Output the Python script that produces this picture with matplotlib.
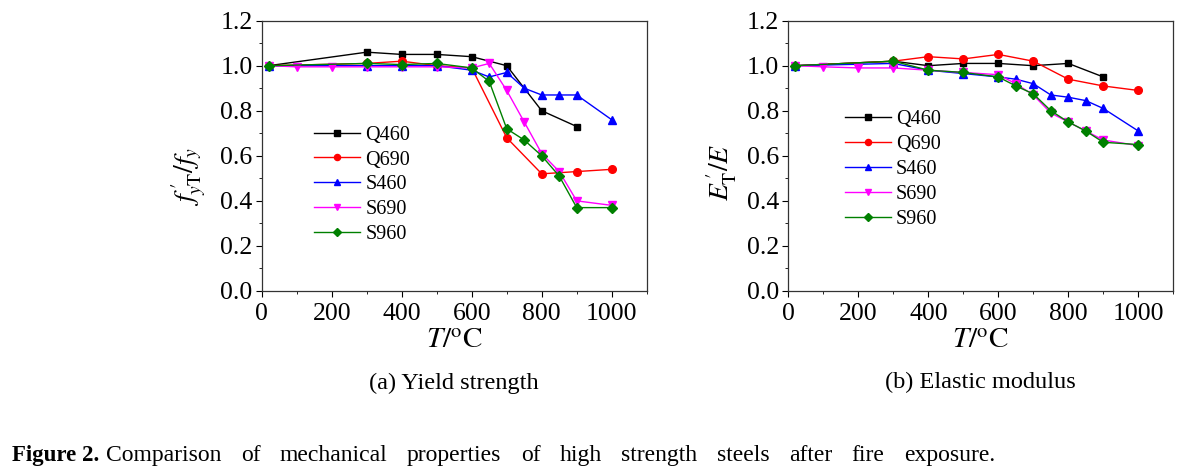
import numpy as np
import matplotlib
matplotlib.use('Agg')
import matplotlib.pyplot as plt
from matplotlib.ticker import MultipleLocator

plt.rcParams['font.family'] = ['Liberation Serif', 'DejaVu Serif']
plt.rcParams['mathtext.fontset'] = 'stix'

# --- data ---
series_names = ['Q460', 'Q690', 'S460', 'S690', 'S960']

# (a) yield strength ratio
ys_T_q460 = [20, 300, 400, 500, 600, 700, 800, 900]
ys_q460 = [1.00, 1.06, 1.05, 1.05, 1.04, 1.00, 0.80, 0.73]
ys_T_q690 = [20, 300, 400, 500, 600, 700, 800, 900, 1000]
ys_q690 = [1.00, 1.01, 1.02, 1.00, 0.99, 0.68, 0.52, 0.53, 0.54]
ys_T_s460 = [20, 300, 400, 500, 600, 650, 700, 750, 800, 850, 900, 1000]
ys_s460 = [1.00, 1.00, 1.00, 1.00, 0.98, 0.95, 0.97, 0.90, 0.87, 0.87, 0.87, 0.76]
ys_T_s690 = [20, 100, 200, 300, 400, 500, 600, 650, 700, 750, 800, 850, 900, 1000]
ys_s690 = [1.00, 0.995, 0.995, 0.995, 0.995, 0.995, 0.99, 1.01, 0.89, 0.75, 0.61, 0.53, 0.40, 0.38]
ys_T_s960 = [20, 300, 400, 500, 600, 650, 700, 750, 800, 850, 900, 1000]
ys_s960 = [1.00, 1.01, 1.005, 1.01, 0.99, 0.93, 0.72, 0.67, 0.60, 0.51, 0.37, 0.37]

# (b) elastic modulus ratio
em_T_q460 = [20, 300, 400, 500, 600, 700, 800, 900]
em_q460 = [1.00, 1.02, 1.00, 1.01, 1.01, 1.00, 1.01, 0.95]
em_T_q690 = [20, 300, 400, 500, 600, 700, 800, 900, 1000]
em_q690 = [1.00, 1.02, 1.04, 1.03, 1.05, 1.02, 0.94, 0.91, 0.89]
em_T_s460 = [20, 300, 400, 500, 600, 650, 700, 750, 800, 850, 900, 1000]
em_s460 = [1.00, 1.01, 0.98, 0.965, 0.95, 0.94, 0.92, 0.87, 0.86, 0.845, 0.81, 0.71]
em_T_s690 = [20, 100, 200, 300, 400, 500, 600, 650, 700, 750, 800, 850, 900, 1000]
em_s690 = [1.00, 0.995, 0.99, 0.99, 0.98, 0.97, 0.96, 0.92, 0.87, 0.79, 0.75, 0.71, 0.67, 0.645]
em_T_s960 = [20, 300, 400, 500, 600, 650, 700, 750, 800, 850, 900, 1000]
em_s960 = [1.00, 1.02, 0.98, 0.97, 0.95, 0.91, 0.875, 0.80, 0.75, 0.71, 0.66, 0.65]

caption_bold = 'Figure 2.'
caption_text = 'Comparison of mechanical properties of high strength steels after fire exposure.'

colors = ['black', 'red', 'blue', 'magenta', 'green']
markers = ['s', 'o', '^', 'v', 'D']
msizes = [5, 5.5, 6, 6, 5]

ys_data = [(ys_T_q460, ys_q460), (ys_T_q690, ys_q690), (ys_T_s460, ys_s460),
           (ys_T_s690, ys_s690), (ys_T_s960, ys_s960)]
em_data = [(em_T_q460, em_q460), (em_T_q690, em_q690), (em_T_s460, em_s460),
           (em_T_s690, em_s690), (em_T_s960, em_s960)]

fig = plt.figure(figsize=(11.93, 4.71), dpi=100)
ax1 = fig.add_axes([0.2194, 0.3822, 0.3227, 0.5740])
ax2 = fig.add_axes([0.6608, 0.3822, 0.3227, 0.5740])


def style_axes(ax):
    ax.set_xlim(0, 1100)
    ax.set_ylim(0, 1.2)
    ax.xaxis.set_major_locator(MultipleLocator(200))
    ax.xaxis.set_minor_locator(MultipleLocator(100))
    ax.yaxis.set_major_locator(MultipleLocator(0.2))
    ax.yaxis.set_minor_locator(MultipleLocator(0.1))
    ax.yaxis.set_major_formatter(plt.FormatStrFormatter('%.1f'))
    ax.tick_params(which='both', direction='out', top=False, right=False, labelsize=18.5)
    ax.tick_params(which='major', length=4)
    ax.tick_params(which='minor', length=2.5)
    ax.tick_params(axis='y', which='major', pad=2.5)
    ax.tick_params(axis='x', which='major', pad=5)
    for s in ax.spines.values():
        s.set_linewidth(0.9)
        s.set_color('#333333')


for ax, data, anchor in [(ax1, ys_data, (0.115, 0.642)), (ax2, em_data, (0.125, 0.700))]:
    for (T, v), name, c, m, ms in zip(data, series_names, colors, markers, msizes):
        ax.plot(T, v, color=c, marker=m, markersize=ms, linewidth=1.0, label=name)
    style_axes(ax)
    ax.legend(loc='upper left', bbox_to_anchor=anchor, frameon=False, fontsize=14.5,
              handlelength=2.3, handletextpad=0.25, labelspacing=0.29, borderaxespad=0,
              markerscale=0.8)

ax1.set_ylabel(r"$f^{\,\prime}_{y\mathrm{T}}/f_{y}$", fontsize=20)
ax2.set_ylabel(r"$E^{\,\prime}_{\mathrm{T}}/E$", fontsize=20)
ax1.yaxis.set_label_coords(-0.142, 0.425)
ax2.yaxis.set_label_coords(-0.128, 0.44)
for ax in (ax1, ax2):
    ax.set_xlabel(r"$T/^{\mathrm{o}}\mathrm{C}$", fontsize=21, labelpad=2)

fig.text(0.3807, 0.187, '(a) Yield strength', ha='center', va='center', fontsize=17.5)
fig.text(0.8221, 0.187, '(b) Elastic modulus', ha='center', va='center', fontsize=17.5)

# caption: bold label, then words spread out to the justified width
cap_y = 0.032
cap1 = fig.text(0.010, cap_y, caption_bold, ha='left', va='center', fontsize=16.5, fontweight='bold')
fig.canvas.draw()
renderer = fig.canvas.get_renderer()
x_start = cap1.get_window_extent(renderer).x1 + 7
x_end = 995.0
words = caption_text.split()
word_objs = [fig.text(0, cap_y, w, ha='left', va='center', fontsize=17) for w in words]
widths = [t.get_window_extent(renderer).width for t in word_objs]
gap = (x_end - x_start - sum(widths)) / (len(words) - 1)
x = x_start
for t, w in zip(word_objs, widths):
    t.set_x(x / fig.bbox.width)
    x += w + gap

fig.savefig('out.png', dpi=100)
